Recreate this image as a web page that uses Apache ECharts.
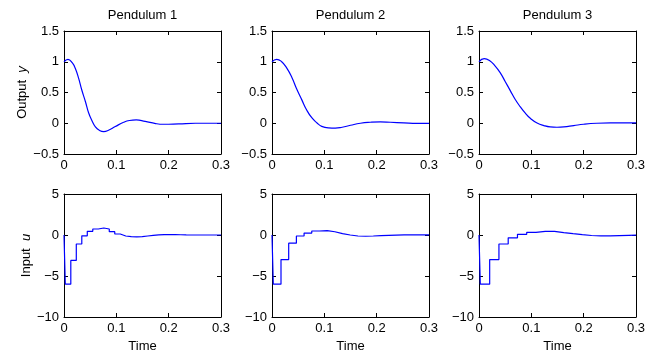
<!DOCTYPE html>
<html><head><meta charset="utf-8">
<script src="https://cdn.jsdelivr.net/npm/echarts@6/dist/echarts.min.js"></script>
<style>html,body{margin:0;padding:0;background:#fff}#c{width:662px;height:356px}</style>
</head><body><div id="c"></div>
<script>
// ---- data ----
const titles = ['Pendulum 1', 'Pendulum 2', 'Pendulum 3'];
const xTicks = [0, 0.1, 0.2, 0.3];
const yOutTicks = [-0.5, 0, 0.5, 1, 1.5];
const yInTicks = [-10, -5, 0, 5];

// outputs y(t)
const y1T = [0, 0.0076, 0.016, 0.0217, 0.028, 0.034, 0.041, 0.047, 0.0535, 0.06, 0.0675, 0.076, 0.085, 0.098, 0.114, 0.125, 0.138, 0.155, 0.175, 0.19, 0.219, 0.251, 0.3];
const y1V = [1.0, 1.04, 0.98, 0.89, 0.73, 0.54, 0.35, 0.17, 0.04, -0.06, -0.115, -0.136, -0.115, -0.054, 0.016, 0.045, 0.054, 0.03, -0.005, -0.016, -0.01, 0, 0];

const y2T = [0, 0.009, 0.0185, 0.028, 0.038, 0.047, 0.057, 0.066, 0.076, 0.086, 0.095, 0.108, 0.121, 0.134, 0.15, 0.169, 0.188, 0.207, 0.226, 0.252, 0.277, 0.3];
const y2V = [1.0, 1.04, 1.0, 0.9, 0.745, 0.56, 0.38, 0.22, 0.09, 0.005, -0.05, -0.076, -0.08, -0.065, -0.033, 0, 0.016, 0.022, 0.016, 0.005, -0.003, -0.003];

const y3T = [0, 0.01, 0.02, 0.031, 0.041, 0.05, 0.06, 0.069, 0.079, 0.0885, 0.098, 0.111, 0.124, 0.136, 0.149, 0.162, 0.181, 0.2, 0.225, 0.251, 0.276, 0.3];
const y3V = [1.0, 1.05, 1.02, 0.93, 0.815, 0.68, 0.527, 0.39, 0.266, 0.163, 0.08, 0.005, -0.038, -0.06, -0.065, -0.06, -0.038, -0.016, 0, 0.005, 0.005, 0.005];

// inputs u(t), piecewise constant
const u1T = [0, 0.0025, 0.013, 0.0235, 0.034, 0.0445, 0.055, 0.0655, 0.076, 0.0865, 0.097, 0.1075, 0.118, 0.1285, 0.139, 0.1495, 0.16, 0.1705, 0.181, 0.1915, 0.202, 0.2125, 0.223, 0.2335, 0.3];
const u1V = [0, -6.0, -3.1, -1.1, -0.1, 0.45, 0.73, 0.85, 0.73, 0.4, 0.12, -0.12, -0.2, -0.22, -0.2, -0.12, -0.05, 0.02, 0.05, 0.06, 0.05, 0.03, 0.01, 0, 0];

const u2T = [0, 0.0025, 0.0172, 0.0319, 0.0466, 0.0613, 0.076, 0.0907, 0.1054, 0.1201, 0.1348, 0.1495, 0.1642, 0.1789, 0.1936, 0.2083, 0.223, 0.2377, 0.2524, 0.3];
const u2V = [0, -6.0, -3.0, -1.0, -0.12, 0.24, 0.49, 0.53, 0.4, 0.16, 0.0, -0.12, -0.15, -0.12, -0.08, -0.04, -0.01, 0.01, 0.01, 0.01];

const u3T = [0, 0.0025, 0.0204, 0.0381, 0.0558, 0.0735, 0.0912, 0.1089, 0.1266, 0.1443, 0.162, 0.1797, 0.1974, 0.2151, 0.2328, 0.2505, 0.2682, 0.2859, 0.3];
const u3V = [0, -6.0, -3.0, -1.1, -0.35, 0.08, 0.33, 0.45, 0.45, 0.3, 0.16, 0.04, -0.06, -0.1, -0.1, -0.07, -0.04, -0.02, -0.02];

const outputs = [[y1T, y1V], [y2T, y2V], [y3T, y3V]];
const inputs = [[u1T, u1V], [u2T, u2V], [u3T, u3V]];

// ---- layout / style ----
const FONT = "'Liberation Sans', Arial, Helvetica, sans-serif";
const lefts = [64, 272, 479];
const tops = [31, 194];
const W = 157, H = 123;
const fmt = v => String(Math.round(v * 100) / 100).replace('-', '\u2212');
const pair = (t, v) => t.map((x, i) => [x, v[i]]);

const grids = [], xAxes = [], yAxes = [], series = [], titleArr = [];
for (let r = 0; r < 2; r++) {
  for (let c = 0; c < 3; c++) {
    const g = r * 3 + c;
    grids.push({ left: lefts[c], top: tops[r], width: W, height: H, containLabel: false });
    const yt = r === 0 ? yOutTicks : yInTicks;
    const baseAxis = {
      gridIndex: g,
      axisLine: { show: true, onZero: false, lineStyle: { color: '#000', width: 1 } },
      axisTick: { show: true, inside: true, length: 4, lineStyle: { color: '#000', width: 1 } },
      splitLine: { show: false },
    };
    xAxes.push(Object.assign({}, baseAxis, {
      type: 'value', position: 'bottom', min: xTicks[0], max: xTicks[xTicks.length - 1],
      interval: xTicks[1] - xTicks[0],
      axisLabel: { show: true, margin: 5, color: '#000', fontSize: 13, fontFamily: FONT, formatter: fmt },
      name: r === 1 ? 'Time' : '', nameLocation: 'middle', nameGap: 23,
      nameTextStyle: { color: '#000', fontSize: 13, fontFamily: FONT }
    }));
    xAxes.push(Object.assign({}, baseAxis, {
      type: 'value', position: 'top', min: xTicks[0], max: xTicks[xTicks.length - 1],
      interval: xTicks[1] - xTicks[0], axisLabel: { show: false }
    }));
    const yName = c === 0 ? (r === 0 ? 'Output  {i|y}' : 'Input  {i|u}') : '';
    yAxes.push(Object.assign({}, baseAxis, {
      type: 'value', position: 'left', min: yt[0], max: yt[yt.length - 1],
      interval: yt[1] - yt[0],
      axisLabel: { show: true, margin: 5, color: '#000', fontSize: 13, fontFamily: FONT, formatter: fmt },
      name: yName, nameLocation: 'middle', nameRotate: 90, nameGap: r === 0 ? 35 : 31,
      nameTextStyle: { color: '#000', fontSize: 13, fontFamily: FONT,
        rich: { i: { fontStyle: 'italic', fontSize: 13, fontFamily: FONT, color: '#000' } } }
    }));
    yAxes.push(Object.assign({}, baseAxis, {
      type: 'value', position: 'right', min: yt[0], max: yt[yt.length - 1],
      interval: yt[1] - yt[0], axisLabel: { show: false }
    }));
    const d = r === 0 ? outputs[c] : inputs[c];
    series.push({
      type: 'line', xAxisIndex: 2 * g, yAxisIndex: 2 * g,
      data: pair(d[0], d[1]),
      showSymbol: false, symbol: 'none', silent: true, animation: false,
      smooth: r === 0 ? 0.5 : false,
      step: r === 1 ? 'end' : false,
      lineStyle: { color: '#0000ff', width: 1.2 }
    });
  }
}
for (let c = 0; c < 3; c++) {
  titleArr.push({
    text: titles[c], left: lefts[c] + W / 2, top: 9, textAlign: 'center', padding: 0,
    textStyle: { fontSize: 13, fontWeight: 'normal', color: '#000', fontFamily: FONT }
  });
}

const chart = echarts.init(document.getElementById('c'), null, { renderer: 'canvas' });
chart.setOption({
  backgroundColor: '#fff',
  animation: false,
  title: titleArr,
  grid: grids,
  xAxis: xAxes,
  yAxis: yAxes,
  series: series
});
</script>
</body></html>
